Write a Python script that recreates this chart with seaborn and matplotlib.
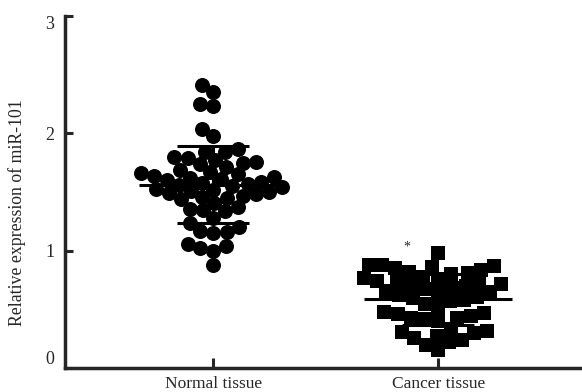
import numpy as np
import pandas as pd
import matplotlib
matplotlib.use('Agg')
import matplotlib.pyplot as plt
from matplotlib.collections import PathCollection
import seaborn as sns

# --- datos ---
groups = ['Normal tissue', 'Cancer tissue']

normal = [2.41, 2.35, 2.25, 2.23, 2.04, 1.98, 1.87, 1.84, 1.84, 1.80, 1.79, 1.77,
          1.76, 1.75, 1.74, 1.71, 1.69,
          1.67, 1.66, 1.65, 1.64, 1.63, 1.62, 1.61, 1.60,
          1.59, 1.58, 1.57, 1.56, 1.55, 1.54, 1.53, 1.52, 1.51, 1.50,
          1.49, 1.48, 1.47, 1.46, 1.45, 1.44,
          1.41, 1.37, 1.36, 1.35, 1.34, 1.28, 1.24, 1.20, 1.17, 1.16, 1.15,
          1.06, 1.04, 1.02, 1.00, 0.88]

cancer = [0.15, 0.20, 0.22, 0.24, 0.26, 0.27, 0.30, 0.31, 0.32, 0.33,
          0.40, 0.42, 0.43, 0.43, 0.44, 0.46, 0.47, 0.48,
          0.52, 0.55, 0.57, 0.58, 0.60, 0.61, 0.62, 0.64, 0.65, 0.66,
          0.67, 0.68, 0.70, 0.71, 0.72, 0.72, 0.73, 0.74, 0.76, 0.77,
          0.78, 0.80, 0.81, 0.82, 0.84, 0.85, 0.86, 0.87, 0.88, 0.88, 0.98]

y_ticks = [0, 1, 2, 3]

df_n = pd.DataFrame({'group': groups[0], 'value': normal})
df_c = pd.DataFrame({'group': groups[1], 'value': cancer})

sns.set_style('ticks')
plt.rcParams['font.family'] = ['Liberation Serif', 'DejaVu Serif']

fig = plt.figure(figsize=(5.82, 3.92), dpi=100)
ax = fig.add_axes([0.112, 0.061, 0.888, 0.898])

# el enjambre se calcula con marcadores mas chicos para que se solapen como en Prism
sns.swarmplot(data=df_n, x='group', y='value', order=groups, marker='o',
              color='black', size=9.2, linewidth=0, ax=ax)
sns.swarmplot(data=df_c, x='group', y='value', order=groups, marker='s',
              color='black', size=9.4, linewidth=0, ax=ax)

# media y desviacion estandar
for i, vals in enumerate([normal, cancer]):
    m = np.mean(vals)
    sd = np.std(vals, ddof=1)
    ax.hlines(m, i - 0.33, i + 0.33, color='black', lw=2.2, zorder=5)
    ax.errorbar(i, m, yerr=sd, color='black', lw=2.2, capsize=26, capthick=2.2,
                zorder=5)

ax.text(0.86, 1.03, '*', ha='center', va='center', fontsize=10)

ax.set_xlim(-0.66, 1.64)
ax.set_ylim(0, 3)
ax.set_yticks(y_ticks)
ax.set_xlabel('')
ax.set_ylabel('Relative expression of miR-101', fontsize=12.8)
ax.yaxis.set_label_coords(-0.075, 0.443)
ax.tick_params(axis='y', direction='in', length=6, width=2.2, labelsize=13, pad=8)
ax.tick_params(axis='x', direction='in', length=7, width=2.2, labelsize=12.5, pad=6)
sns.despine(ax=ax)
for s in ['left', 'bottom']:
    ax.spines[s].set_linewidth(2.5)

# fijar posiciones del enjambre y agrandar los marcadores
fig.canvas.draw()
marker_sizes = [10.8, 9.8]
pcs = [c for c in ax.collections if isinstance(c, PathCollection) and len(c.get_offsets())]
for coll, ms in zip(pcs, marker_sizes):
    if 'draw' in coll.__dict__:
        del coll.draw
    coll.set_sizes([ms ** 2])

for lab in ax.get_yticklabels():
    if lab.get_text() == '3':
        lab.set_va('top')
    elif lab.get_text() == '0':
        lab.set_va('bottom')

fig.savefig('out.png', dpi=100)
